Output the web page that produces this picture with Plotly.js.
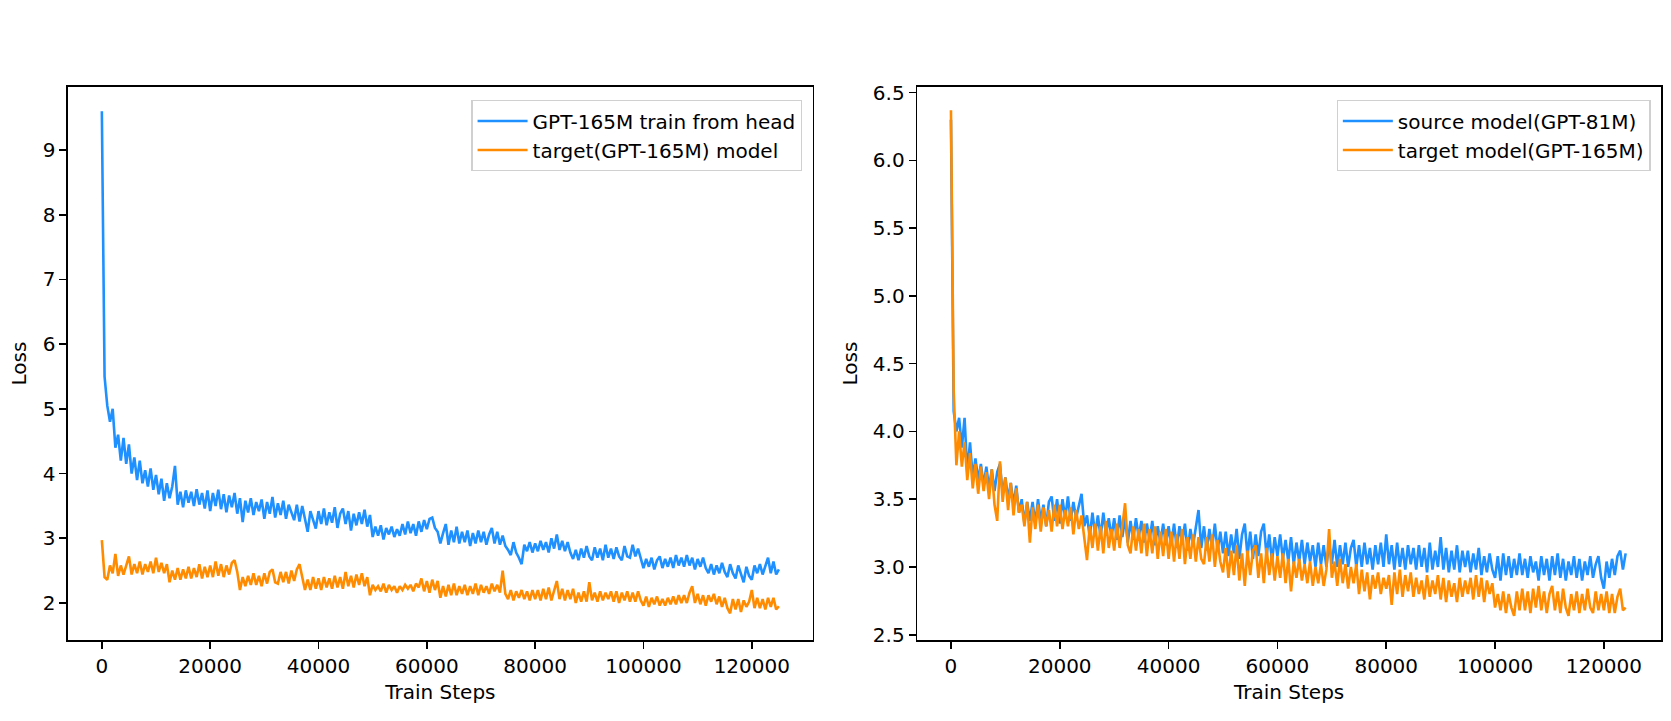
<!DOCTYPE html>
<html>
<head>
<meta charset="utf-8">
<script src="https://cdn.plot.ly/plotly-3.0.1.min.js"></script>
<style>
  html, body { margin: 0; padding: 0; background: #ffffff; }
  #chart { width: 1671px; height: 721px; }
</style>
</head>
<body>
<div id="chart"></div>
<script>
// logged every 500 train steps
const STEP = 500;

// left panel: GPT-165M trained from scratch vs. target(GPT-165M)
const head_165m_loss = [
  9.60, 5.50, 5.05, 4.80, 5.00, 4.40, 4.60, 4.20, 4.55, 4.15,
  4.45, 4.00, 4.25, 3.90, 4.20, 3.85, 4.05, 3.80, 4.08, 3.75,
  3.98, 3.68, 3.92, 3.58, 3.85, 3.62, 3.80, 4.12, 3.52, 3.72,
  3.48, 3.74, 3.55, 3.72, 3.50, 3.76, 3.52, 3.70, 3.46, 3.74,
  3.42, 3.70, 3.50, 3.75, 3.45, 3.68, 3.40, 3.66, 3.48, 3.70,
  3.38, 3.62, 3.25, 3.58, 3.40, 3.62, 3.36, 3.56, 3.42, 3.60,
  3.30, 3.56, 3.38, 3.64, 3.32, 3.54, 3.36, 3.58, 3.30, 3.52,
  3.40, 3.28, 3.52, 3.26, 3.50, 3.32, 3.10, 3.42, 3.30, 3.15,
  3.42, 3.22, 3.46, 3.20, 3.40, 3.24, 3.48, 3.16, 3.38, 3.46,
  3.22, 3.42, 3.12, 3.38, 3.20, 3.40, 3.22, 3.44, 3.18, 3.36,
  3.02, 3.18, 3.04, 3.20, 2.98, 3.16, 3.06, 3.18, 3.02, 3.14,
  3.04, 3.22, 3.06, 3.26, 3.08, 3.22, 3.04, 3.26, 3.10, 3.28,
  3.14, 3.30, 3.32, 3.16, 3.10, 2.92, 3.08, 3.22, 2.90, 3.12,
  2.94, 3.18, 2.92, 3.10, 2.94, 3.12, 2.88, 3.08, 2.92, 3.12,
  2.94, 3.10, 2.90, 3.06, 3.16, 2.92, 3.10, 2.90, 3.04, 2.88,
  2.82, 2.74, 2.94, 2.78, 2.70, 2.60, 2.90, 2.80, 2.94, 2.78,
  2.92, 2.80, 2.96, 2.82, 2.94, 2.78, 3.00, 2.84, 3.06, 2.82,
  2.96, 2.80, 2.94, 2.78, 2.68, 2.82, 2.66, 2.84, 2.70, 2.88,
  2.72, 2.66, 2.86, 2.70, 2.84, 2.66, 2.90, 2.70, 2.84, 2.68,
  2.86, 2.72, 2.66, 2.88, 2.72, 2.70, 2.90, 2.72, 2.84, 2.68,
  2.54, 2.68, 2.56, 2.70, 2.52, 2.66, 2.72, 2.54, 2.68, 2.56,
  2.70, 2.54, 2.74, 2.58, 2.70, 2.56, 2.74, 2.58, 2.70, 2.52,
  2.68, 2.56, 2.70, 2.54, 2.46, 2.60, 2.44, 2.58, 2.46, 2.62,
  2.48, 2.40, 2.60, 2.46, 2.38, 2.58, 2.44, 2.32, 2.56, 2.42,
  2.36, 2.58, 2.46, 2.60, 2.44, 2.56, 2.70, 2.46, 2.64, 2.44,
  2.52
];

const target_left_loss = [
  2.97, 2.40, 2.36, 2.58, 2.46, 2.76, 2.42, 2.58, 2.44, 2.60,
  2.72, 2.44, 2.60, 2.46, 2.64, 2.44, 2.60, 2.48, 2.64, 2.46,
  2.70, 2.48, 2.62, 2.46, 2.60, 2.32, 2.50, 2.36, 2.54, 2.36,
  2.52, 2.38, 2.56, 2.38, 2.54, 2.40, 2.60, 2.38, 2.56, 2.40,
  2.58, 2.40, 2.64, 2.42, 2.60, 2.40, 2.58, 2.44, 2.62, 2.66,
  2.48, 2.20, 2.40, 2.26, 2.42, 2.28, 2.46, 2.28, 2.42, 2.26,
  2.46, 2.30, 2.48, 2.52, 2.32, 2.30, 2.48, 2.32, 2.48, 2.30,
  2.50, 2.34, 2.52, 2.60, 2.40, 2.20, 2.36, 2.20, 2.40, 2.22,
  2.38, 2.20, 2.40, 2.24, 2.38, 2.22, 2.42, 2.24, 2.40, 2.22,
  2.48, 2.26, 2.42, 2.24, 2.44, 2.28, 2.46, 2.26, 2.40, 2.12,
  2.28, 2.20, 2.26, 2.18, 2.30, 2.16, 2.28, 2.20, 2.26, 2.16,
  2.26, 2.20, 2.28, 2.22, 2.28, 2.18, 2.30, 2.24, 2.38, 2.18,
  2.34, 2.16, 2.36, 2.20, 2.34, 2.08, 2.26, 2.10, 2.28, 2.12,
  2.30, 2.12, 2.26, 2.14, 2.28, 2.12, 2.26, 2.14, 2.30, 2.12,
  2.28, 2.16, 2.26, 2.14, 2.30, 2.18, 2.28, 2.16, 2.50, 2.14,
  2.06, 2.20, 2.04, 2.18, 2.08, 2.20, 2.06, 2.18, 2.04, 2.20,
  2.06, 2.20, 2.04, 2.22, 2.06, 2.24, 2.04, 2.20, 2.34, 2.06,
  2.22, 2.04, 2.20, 2.06, 2.22, 2.00, 2.16, 2.02, 2.18, 2.02,
  2.32, 2.04, 2.16, 2.02, 2.18, 2.04, 2.16, 2.06, 2.18, 2.02,
  2.18, 2.00, 2.16, 2.04, 2.18, 2.02, 2.16, 2.02, 2.18, 2.04,
  1.96, 2.10, 1.94, 2.08, 1.98, 2.10, 1.96, 2.06, 1.96, 2.08,
  1.98, 2.10, 1.98, 2.12, 2.00, 2.12, 2.00, 2.16, 2.26, 2.00,
  2.14, 1.98, 2.12, 1.96, 2.12, 2.02, 2.14, 1.98, 2.10, 1.94,
  2.08, 1.92, 1.84, 2.06, 1.90, 2.06, 1.86, 2.04, 1.94, 2.02,
  2.20, 1.92, 2.08, 1.92, 2.06, 1.90, 2.08, 1.94, 2.08, 1.90,
  1.95
];

// right panel: source model(GPT-81M) vs. target model(GPT-165M)
const source_81m_loss = [
  6.30, 4.15, 4.00, 4.10, 3.88, 4.10, 3.70, 3.92, 3.66, 3.80,
  3.64, 3.76, 3.60, 3.74, 3.58, 3.72, 3.56, 3.70, 3.76, 3.54,
  3.66, 3.50, 3.62, 3.46, 3.60, 3.40, 3.50, 3.32, 3.48, 3.34,
  3.48, 3.32, 3.50, 3.34, 3.46, 3.30, 3.48, 3.52, 3.34, 3.50,
  3.32, 3.50, 3.36, 3.52, 3.34, 3.48, 3.36, 3.46, 3.54, 3.30,
  3.38, 3.22, 3.40, 3.24, 3.38, 3.22, 3.40, 3.24, 3.36, 3.22,
  3.36, 3.20, 3.38, 3.22, 3.36, 3.18, 3.34, 3.20, 3.36, 3.22,
  3.34, 3.18, 3.32, 3.20, 3.34, 3.16, 3.30, 3.18, 3.32, 3.16,
  3.30, 3.16, 3.32, 3.14, 3.30, 3.18, 3.32, 3.12, 3.28, 3.16,
  3.30, 3.42, 3.14, 3.30, 3.12, 3.28, 3.14, 3.32, 3.12, 3.26,
  3.10, 3.26, 3.08, 3.24, 3.10, 3.28, 3.06, 3.24, 3.32, 3.08,
  3.26, 3.06, 3.24, 3.08, 3.26, 3.32, 3.08, 3.24, 3.04, 3.22,
  3.08, 3.24, 3.06, 3.20, 3.04, 3.22, 3.02, 3.18, 3.04, 3.20,
  3.02, 3.18, 3.04, 3.16, 3.00, 3.18, 3.02, 3.16, 3.00, 3.18,
  3.02, 3.20, 3.00, 3.16, 3.02, 3.18, 3.00, 3.14, 3.20, 3.00,
  3.16, 3.00, 3.18, 3.02, 3.14, 2.98, 3.16, 3.02, 3.18, 3.00,
  3.24, 3.02, 3.16, 2.98, 3.18, 3.00, 3.14, 2.98, 3.16, 3.02,
  3.14, 2.98, 3.16, 3.00, 3.14, 2.96, 3.18, 2.98, 3.12, 3.00,
  3.22, 2.98, 3.14, 2.96, 3.12, 2.98, 3.16, 2.96, 3.12, 3.00,
  3.12, 2.96, 3.10, 2.98, 3.14, 2.94, 3.08, 2.96, 3.10, 2.98,
  2.92, 3.08, 2.90, 3.10, 2.94, 3.08, 2.92, 3.06, 2.94, 3.10,
  2.94, 3.06, 2.92, 3.08, 2.96, 3.04, 2.90, 3.08, 2.94, 3.06,
  2.90, 3.08, 2.94, 3.10, 2.92, 3.06, 2.90, 3.04, 2.94, 3.08,
  2.92, 3.06, 2.90, 3.04, 2.94, 3.08, 2.92, 3.02, 3.08, 2.92,
  2.84, 3.04, 2.92, 3.06, 2.94, 3.08, 3.12, 2.98, 3.10
];

const target_right_loss = [
  6.37, 4.30, 3.75, 4.00, 3.74, 3.92, 3.64, 3.84, 3.58, 3.76,
  3.54, 3.74, 3.56, 3.70, 3.50, 3.72, 3.46, 3.34, 3.78, 3.48,
  3.66, 3.42, 3.62, 3.38, 3.58, 3.40, 3.46, 3.30, 3.48, 3.18,
  3.44, 3.28, 3.46, 3.26, 3.44, 3.30, 3.42, 3.26, 3.46, 3.30,
  3.46, 3.28, 3.42, 3.30, 3.44, 3.24, 3.42, 3.28, 3.38, 3.22,
  3.05, 3.30, 3.14, 3.32, 3.12, 3.30, 3.10, 3.34, 3.14, 3.28,
  3.12, 3.32, 3.14, 3.30, 3.47, 3.16, 3.10, 3.30, 3.12, 3.28,
  3.10, 3.32, 3.08, 3.28, 3.10, 3.30, 3.06, 3.26, 3.08, 3.28,
  3.06, 3.26, 3.04, 3.24, 3.06, 3.28, 3.02, 3.22, 3.06, 3.24,
  3.04, 3.22, 3.06, 3.02, 3.22, 3.04, 3.24, 3.00, 3.20, 3.04,
  2.96, 3.14, 2.92, 3.12, 2.94, 3.16, 2.90, 3.10, 2.86, 3.12,
  2.94, 3.12, 3.16, 2.92, 3.10, 2.88, 3.14, 2.94, 3.10, 2.90,
  3.08, 2.92, 3.10, 2.88, 3.06, 2.82, 3.04, 2.92, 3.06, 2.90,
  3.02, 2.88, 3.04, 2.86, 3.00, 2.88, 3.02, 2.86, 2.98, 3.28,
  2.92, 3.04, 2.86, 3.06, 2.88, 3.02, 2.84, 3.00, 2.88, 3.02,
  2.80, 2.98, 2.82, 2.96, 2.76, 2.94, 2.84, 2.96, 2.80, 2.92,
  2.84, 2.94, 2.72, 2.96, 2.80, 2.98, 2.78, 2.94, 2.82, 2.96,
  2.78, 2.92, 2.80, 2.90, 2.76, 2.94, 2.78, 2.90, 2.80, 2.94,
  2.76, 2.92, 2.74, 2.90, 2.78, 2.88, 2.74, 2.92, 2.78, 2.90,
  2.80, 2.92, 2.76, 2.94, 2.78, 2.92, 2.74, 2.90, 2.80, 2.88,
  2.70, 2.80, 2.68, 2.82, 2.66, 2.80, 2.70, 2.64, 2.82, 2.68,
  2.84, 2.68, 2.82, 2.66, 2.84, 2.70, 2.86, 2.68, 2.82, 2.66,
  2.80, 2.86, 2.68, 2.82, 2.66, 2.84, 2.70, 2.64, 2.80, 2.68,
  2.82, 2.66, 2.80, 2.68, 2.84, 2.70, 2.66, 2.82, 2.68, 2.80,
  2.68, 2.82, 2.66, 2.80, 2.66, 2.78, 2.84, 2.68, 2.70
];

const left_names = ["GPT-165M train from head", "target(GPT-165M) model"];
const right_names = ["source model(GPT-81M)", "target model(GPT-165M)"];

const BLUE = "#1e90ff";
const ORANGE = "#ff8c00";

function steps_for(values){
    return values.map((v, i) => i * STEP);
}

function line_trace({values, name, color, xaxis, yaxis, legend}){
    return {
        x: steps_for(values),
        y: values,
        type: "scatter",
        mode: "lines",
        name: name,
        xaxis: xaxis,
        yaxis: yaxis,
        legend: legend,
        line: {
            color: color,
            width: 2.6
        },
        hoverinfo: "skip"
    };
}

function x_axis(domain, range, anchor){
    return {
        domain: domain,
        range: range,
        anchor: anchor,
        title: {text: "Train Steps", standoff: 8, font: {size: 20}},
        tick0: 0,
        dtick: 20000,
        tickformat: "d",
        ticks: "outside",
        ticklen: 7,
        tickwidth: 1.6,
        tickcolor: "#000000",
        showline: true,
        mirror: true,
        linecolor: "#000000",
        linewidth: 1.6,
        showgrid: false,
        zeroline: false
    };
}

function y_axis(range, dtick, format, anchor){
    return {
        domain: [0, 1],
        range: range,
        anchor: anchor,
        title: {text: "Loss", standoff: 10, font: {size: 20}},
        dtick: dtick,
        tickformat: format,
        ticks: "outside",
        ticklen: 7,
        tickwidth: 1.6,
        tickcolor: "#000000",
        showline: true,
        mirror: true,
        linecolor: "#000000",
        linewidth: 1.6,
        showgrid: false,
        zeroline: false
    };
}

function legend_box(x){
    return {
        x: x,
        y: 0.976,
        xanchor: "right",
        yanchor: "top",
        bgcolor: "#ffffff",
        bordercolor: "#d0d0d0",
        borderwidth: 1.2,
        itemwidth: 50,
        tracegroupgap: 0,
        font: {size: 20, color: "#000000"}
    };
}

let data = [
    line_trace({values: head_165m_loss, name: left_names[0], color: BLUE, xaxis: "x", yaxis: "y", legend: "legend"}),
    line_trace({values: target_left_loss, name: left_names[1], color: ORANGE, xaxis: "x", yaxis: "y", legend: "legend"}),
    line_trace({values: source_81m_loss, name: right_names[0], color: BLUE, xaxis: "x2", yaxis: "y2", legend: "legend2"}),
    line_trace({values: target_right_loss, name: right_names[1], color: ORANGE, xaxis: "x2", yaxis: "y2", legend: "legend2"})
];

let layout = {
    width: 1671,
    height: 721,
    margin: {l: 68, r: 10, t: 87, b: 81, pad: 0},
    paper_bgcolor: "#ffffff",
    plot_bgcolor: "#ffffff",
    font: {family: "DejaVu Sans, sans-serif", size: 20, color: "#000000"},
    showlegend: true,
    xaxis: x_axis([0, 0.4675], [-6250, 131250], "y"),
    yaxis: y_axis([1.428, 9.974], 1, "d", "x"),
    xaxis2: x_axis([0.5331, 1], [-6200, 130500], "y2"),
    yaxis2: y_axis([2.461, 6.541], 0.5, ".1f", "x2"),
    legend: legend_box(0.461),
    legend2: legend_box(0.9935)
};

Plotly.newPlot("chart", data, layout, {displayModeBar: false, staticPlot: true});
</script>
</body>
</html>
